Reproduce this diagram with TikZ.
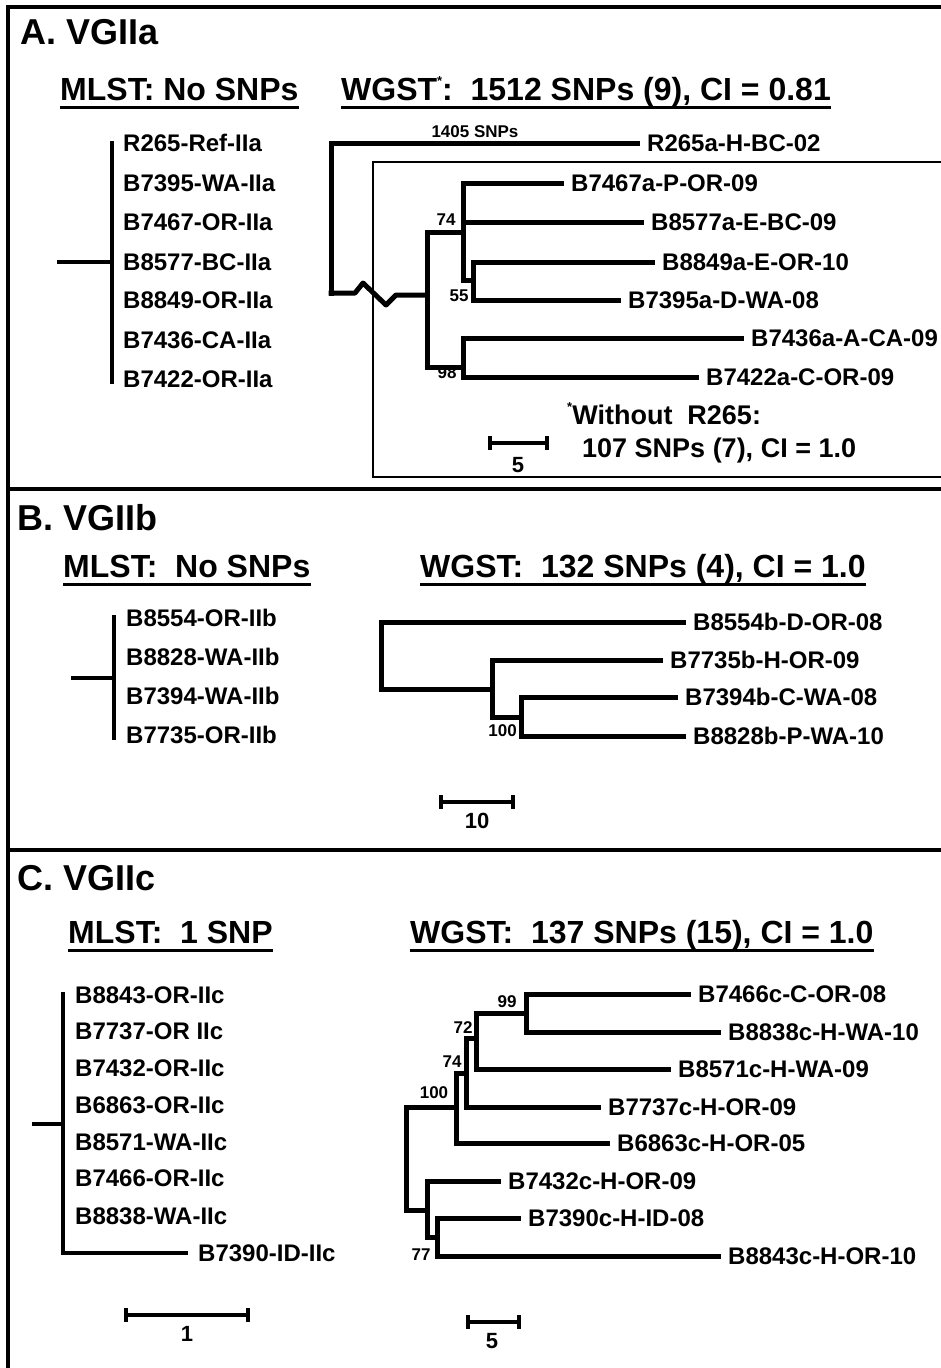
\documentclass[tikz,border=0pt]{standalone}
\usepackage{fontspec}
\setmainfont{Liberation Sans}
\newcommand{\fsz}[1]{\fontsize{#1}{#1}\selectfont}
\newcommand{\tinystar}{\raisebox{0.45em}{\fsz{13}*}}

\tikzset{
  frame/.style={line width=4.5pt},
  inbox/.style={line width=1.5pt},
  br/.style={line width=5pt, line cap=rect},
  ml/.style={line width=4pt},
  bar/.style={line width=4pt},
  ul/.style={line width=3pt},
  lab/.style={anchor=west, inner xsep=10pt, inner ysep=0pt, font=\bfseries\fsz{24}},
  boot/.style={inner sep=0pt, font=\bfseries\fsz{17}},
  ttl/.style={anchor=base west, inner sep=0pt, font=\bfseries\fsz{36}},
  hdr/.style={anchor=base west, inner sep=0pt, font=\bfseries\fsz{32}},
  note/.style={anchor=base west, inner sep=0pt, font=\bfseries\fsz{27}},
  scl/.style={inner sep=0pt, font=\bfseries\fsz{22}}
}

\begin{document}
\begin{tikzpicture}[x=1pt, y=-1pt]
        \useasboundingbox (0,0) rectangle (941,1368);

        % Frame and the rules between the panels
        \draw[frame] (8,1368) -- (8,7) -- (941,7);
        \draw[frame] (8,489) -- (941,489);
        \draw[frame] (8,850) -- (941,850);

        % ---------------- A. VGIIa ----------------
        \node[ttl] (tA) at (20,44) {A. VGIIa};
        \node[hdr] (hAm) at (60,100) {MLST: No SNPs};
        \node[hdr] (hAw) at (341,100) {WGST\tinystar:~~1512 SNPs (9), CI = 0.81};
        \draw[ul] ([yshift=-7pt]hAm.base west) -- ([yshift=-7pt]hAm.base east);
        \draw[ul] ([yshift=-7pt]hAw.base west) -- ([yshift=-7pt]hAw.base east);

        % MLST tree (no SNPs)
        \node[lab] (aM1) at (113,143) {R265-Ref-IIa};
        \node[lab] (aM2) at (113,183) {B7395-WA-IIa};
        \node[lab] (aM3) at (113,222) {B7467-OR-IIa};
        \node[lab] (aM4) at (113,262) {B8577-BC-IIa};
        \node[lab] (aM5) at (113,300) {B8849-OR-IIa};
        \node[lab] (aM6) at (113,340) {B7436-CA-IIa};
        \node[lab] (aM7) at (113,379) {B7422-OR-IIa};
        \draw[ml] (112,141) -- (112,384);
        \draw[ml] (57,262) -- (112,262);

        % box round the tree without R265
        \draw[inbox] (373,162) rectangle (950,477);

        % WGST tree
        \node[lab] (aR265) at (637,143) {R265a-H-BC-02};
        \node[lab] (aB7467) at (561,183) {B7467a-P-OR-09};
        \node[lab] (aB8577) at (641,222) {B8577a-E-BC-09};
        \node[lab] (aB8849) at (652,262) {B8849a-E-OR-10};
        \node[lab] (aB7395) at (618,300) {B7395a-D-WA-08};
        \node[lab] (aB7436) at (741,338) {B7436a-A-CA-09};
        \node[lab] (aB7422) at (696,377) {B7422a-C-OR-09};

        \draw[br] (331,293) |- (aR265.west);
        \draw[br, line join=round] (331,293) -- (355,293) -- (363,283) -- (386,305) -- (396,295) -- (427,295);
        \draw[br] (427,232) -- (427,367);
        \draw[br] (427,232) -- (463,232);
        \draw[br] (463,280) |- (aB7467.west);
        \draw[br] (463,280) |- (aB8577.west);
        \draw[br] (463,280) -- (473,280);
        \draw[br] (473,280) |- (aB8849.west);
        \draw[br] (473,280) |- (aB7395.west);
        \draw[br] (427,367) -- (463,367);
        \draw[br] (463,367) |- (aB7436.west);
        \draw[br] (463,367) |- (aB7422.west);

        \node[boot] (aSnp) at (475,132) {1405 SNPs};
        \node[boot] (aBs1) at (446,220) {74};
        \node[boot] (aBs2) at (459,296) {55};
        \node[boot] (aBs3) at (447,373) {98};

        \node[note] (aNote1) at (567,424) {\tinystar Without~~R265:};
        \node[note] (aNote2) at (582,457) {107 SNPs (7), CI = 1.0};

        % scale bar
        \draw[bar] (490,436) -- (490,450) (490,443) -- (547,443) (547,436) -- (547,450);
        \node[scl] (sA) at (518,465) {5};

        % ---------------- B. VGIIb ----------------
        \node[ttl] (tB) at (17,530) {B. VGIIb};
        \node[hdr] (hBm) at (63,577) {MLST:~~No SNPs};
        \node[hdr] (hBw) at (420,577) {WGST:~~132 SNPs (4), CI = 1.0};
        \draw[ul] ([yshift=-7pt]hBm.base west) -- ([yshift=-7pt]hBm.base east);
        \draw[ul] ([yshift=-7pt]hBw.base west) -- ([yshift=-7pt]hBw.base east);

        % MLST tree
        \node[lab] (bM1) at (116,618) {B8554-OR-IIb};
        \node[lab] (bM2) at (116,657) {B8828-WA-IIb};
        \node[lab] (bM3) at (116,696) {B7394-WA-IIb};
        \node[lab] (bM4) at (116,735) {B7735-OR-IIb};
        \draw[ml] (114,615) -- (114,740);
        \draw[ml] (71,678) -- (114,678);

        % WGST tree
        \node[lab] (bB8554) at (683,622) {B8554b-D-OR-08};
        \node[lab] (bB7735) at (660,660) {B7735b-H-OR-09};
        \node[lab] (bB7394) at (675,697) {B7394b-C-WA-08};
        \node[lab] (bB8828) at (683,736) {B8828b-P-WA-10};

        \draw[br] (381,689) |- (bB8554.west);
        \draw[br] (381,689) -- (492,689);
        \draw[br] (492,717) |- (bB7735.west);
        \draw[br] (492,717) -- (521,717);
        \draw[br] (521,717) |- (bB7394.west);
        \draw[br] (521,717) |- (bB8828.west);
        \node[boot, anchor=east] (bBs1) at (517,731) {100};

        % scale bar
        \draw[bar] (441,795) -- (441,809) (441,802) -- (513,802) (513,795) -- (513,809);
        \node[scl] (sB) at (477,821) {10};

        % ---------------- C. VGIIc ----------------
        \node[ttl] (tC) at (17,890) {C. VGIIc};
        \node[hdr] (hCm) at (68,943) {MLST:~~1 SNP};
        \node[hdr] (hCw) at (410,943) {WGST:~~137 SNPs (15), CI = 1.0};
        \draw[ul] ([yshift=-7pt]hCm.base west) -- ([yshift=-7pt]hCm.base east);
        \draw[ul] ([yshift=-7pt]hCw.base west) -- ([yshift=-7pt]hCw.base east);

        % MLST tree (one SNP)
        \node[lab] (cM1) at (65,995) {B8843-OR-IIc};
        \node[lab] (cM2) at (65,1031) {B7737-OR IIc};
        \node[lab] (cM3) at (65,1068) {B7432-OR-IIc};
        \node[lab] (cM4) at (65,1105) {B6863-OR-IIc};
        \node[lab] (cM5) at (65,1142) {B8571-WA-IIc};
        \node[lab] (cM6) at (65,1178) {B7466-OR-IIc};
        \node[lab] (cM7) at (65,1216) {B8838-WA-IIc};
        \node[lab] (cM8) at (188,1253) {B7390-ID-IIc};
        \draw[ml] (63,992) |- (cM8.west);
        \draw[ml] (32,1124) -- (63,1124);

        % scale bar
        \draw[bar] (126,1308) -- (126,1322) (126,1315) -- (248,1315) (248,1308) -- (248,1322);
        \node[scl] (sCm) at (187,1334) {1};

        % WGST tree
        \node[lab] (cB7466) at (688,994) {B7466c-C-OR-08};
        \node[lab] (cB8838) at (718,1032) {B8838c-H-WA-10};
        \node[lab] (cB8571) at (668,1069) {B8571c-H-WA-09};
        \node[lab] (cB7737) at (598,1107) {B7737c-H-OR-09};
        \node[lab] (cB6863) at (607,1143) {B6863c-H-OR-05};
        \node[lab] (cB7432) at (498,1181) {B7432c-H-OR-09};
        \node[lab] (cB7390) at (518,1218) {B7390c-H-ID-08};
        \node[lab] (cB8843) at (718,1256) {B8843c-H-OR-10};

        \draw[br] (406,1107) -- (406,1210);
        \draw[br] (406,1107) -- (456,1107);
        \draw[br] (456,1073) |- (cB6863.west);
        \draw[br] (456,1073) -- (466,1073);
        \draw[br] (466,1038) |- (cB7737.west);
        \draw[br] (466,1038) -- (476,1038);
        \draw[br] (476,1013) |- (cB8571.west);
        \draw[br] (476,1013) -- (526,1013);
        \draw[br] (526,1013) |- (cB7466.west);
        \draw[br] (526,1013) |- (cB8838.west);
        \draw[br] (406,1210) -- (427,1210);
        \draw[br] (427,1210) |- (cB7432.west);
        \draw[br] (427,1237) -- (437,1237);
        \draw[br] (427,1210) -- (427,1237);
        \draw[br] (437,1237) |- (cB7390.west);
        \draw[br] (437,1237) |- (cB8843.west);

        \node[boot] (cBs1) at (507,1002) {99};
        \node[boot] (cBs2) at (463,1028) {72};
        \node[boot] (cBs3) at (452,1062) {74};
        \node[boot] (cBs4) at (434,1093) {100};
        \node[boot] (cBs5) at (421,1255) {77};

        % scale bar
        \draw[bar] (468,1315) -- (468,1329) (468,1322) -- (519,1322) (519,1315) -- (519,1329);
        \node[scl] (sCw) at (492,1341) {5};

\end{tikzpicture}
\end{document}
